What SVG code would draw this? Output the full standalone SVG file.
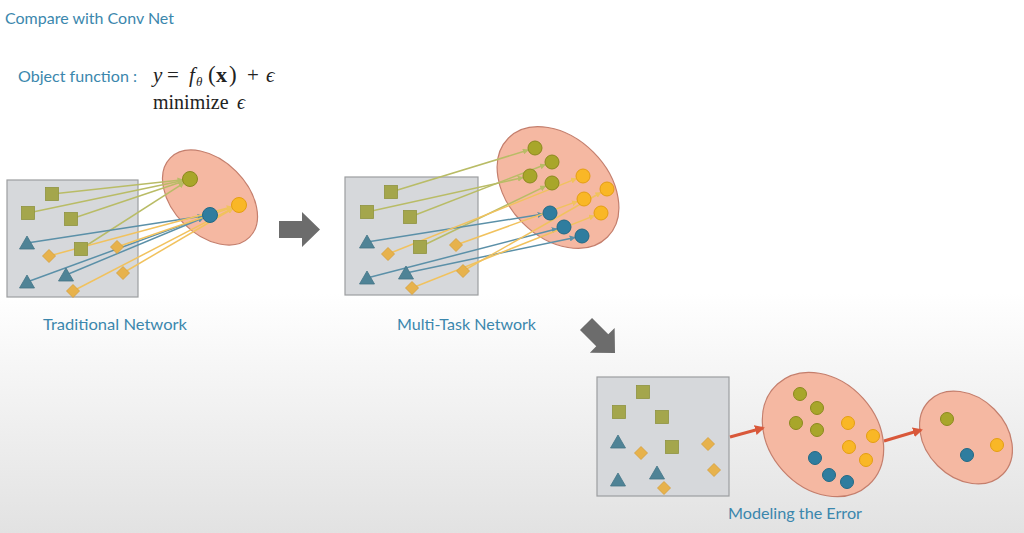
<svg xmlns="http://www.w3.org/2000/svg" xmlns:xlink="http://www.w3.org/1999/xlink" width="1024" height="533" viewBox="0 0 1024 533">
<style>
.lbl{font-family:Lato,"Liberation Sans",sans-serif;fill:#3b87ad}
.math{font-family:"Liberation Serif","DejaVu Serif",serif;fill:#222}
.box{fill:#d6d8db;stroke:#9c9ea0;stroke-width:1.2}
.ell{fill:#f5b8a2;stroke:#c47e6c;stroke-width:1.2}
.sq{fill:#a4a64c;stroke:#909340;stroke-width:0.8}
.tri{fill:#4f8396;stroke:#447587;stroke-width:0.8}
.dia{fill:#e7b24c;stroke:#d49d38;stroke-width:0.8}
.co{fill:#a8a62a;stroke:#8b891e;stroke-width:1}
.cy{fill:#f9b726;stroke:#e49e12;stroke-width:1}
.cb{fill:#2f7d9f;stroke:#226985;stroke-width:1}
.lo{stroke:#b9bc66;stroke-width:1.5;fill:none;marker-end:url(#mo)}
.lb{stroke:#5b90a8;stroke-width:1.5;fill:none;marker-end:url(#mb)}
.ly{stroke:#f1c25e;stroke-width:1.5;fill:none;marker-end:url(#my)}
.lr{stroke:#d9583a;stroke-width:3;fill:none;marker-end:url(#mr)}
.blk{fill:#6c6c6c}
</style>
<defs>
<linearGradient id="bg" x1="0" y1="0" x2="0" y2="1">
<stop offset="0.55" stop-color="#ffffff"/>
<stop offset="1" stop-color="#e2e2e2"/>
</linearGradient>
<rect id="sq" x="-6.5" y="-6.5" width="13" height="13"/>
<path id="tri" d="M0,-7 L7.5,6 L-7.5,6 Z"/>
<path id="dia" d="M0,-6.5 L6.5,0 L0,6.5 L-6.5,0 Z"/>
<path id="blkarrow" d="M-41,-8.5 L-18,-8.5 L-18,-17.5 L0,0 L-18,17.5 L-18,8.5 L-41,8.5 Z"/>
<marker id="mo" viewBox="0 0 10 10" refX="9" refY="5" markerWidth="6" markerHeight="6" markerUnits="userSpaceOnUse" orient="auto"><path d="M0,0 L10,5 L0,10 Z" fill="#b9bc66"/></marker>
<marker id="mb" viewBox="0 0 10 10" refX="9" refY="5" markerWidth="6" markerHeight="6" markerUnits="userSpaceOnUse" orient="auto"><path d="M0,0 L10,5 L0,10 Z" fill="#5b90a8"/></marker>
<marker id="my" viewBox="0 0 10 10" refX="9" refY="5" markerWidth="6" markerHeight="6" markerUnits="userSpaceOnUse" orient="auto"><path d="M0,0 L10,5 L0,10 Z" fill="#f1c25e"/></marker>
<marker id="mr" viewBox="0 0 10 10" refX="8" refY="5" markerWidth="10" markerHeight="10" markerUnits="userSpaceOnUse" orient="auto"><path d="M0,0 L10,5 L0,10 Z" fill="#d9583a"/></marker>
</defs>

<rect x="0" y="0" width="1024" height="533" fill="url(#bg)"/>

<g id="title">
<text class="lbl" x="5" y="24" font-size="16">Compare with Conv Net</text>
</g>

<g id="objective">
<text class="lbl" x="18" y="82" font-size="16" textLength="119" lengthAdjust="spacingAndGlyphs">Object function :</text>
<text class="math" y="82" font-size="21"><tspan x="153" font-style="italic">y</tspan><tspan x="167">=</tspan><tspan x="189" font-style="italic">f</tspan><tspan x="196" y="86" font-size="13" font-style="italic">θ</tspan><tspan x="208" y="82" font-size="23">(</tspan><tspan x="216" font-size="22" font-weight="bold">x</tspan><tspan x="229" font-size="23">)</tspan><tspan x="247">+</tspan><tspan x="266" font-style="italic">ϵ</tspan></text>
<text class="math" y="109" font-size="20"><tspan x="153">minimize</tspan><tspan x="237" font-style="italic">ϵ</tspan></text>
</g>

<!-- Traditional network -->
<g id="trad-input">
<rect class="box" x="7" y="180" width="131" height="117"/>
</g>
<g id="trad-output">
<ellipse class="ell" cx="210" cy="197.5" rx="56" ry="37" transform="rotate(45 210 197.5)"/>
</g>
<g id="trad-connectors">
<line class="lo" x1="52" y1="194" x2="183" y2="179.8"/>
<line class="lo" x1="28" y1="213" x2="183.1" y2="180.4"/>
<line class="lo" x1="71" y1="219" x2="183.4" y2="181.2"/>
<line class="lo" x1="81" y1="249" x2="184.1" y2="182.8"/>
<line class="lb" x1="27" y1="243" x2="203.1" y2="216.1"/>
<line class="lb" x1="27" y1="282" x2="203.4" y2="217.4"/>
<line class="lb" x1="66" y1="275" x2="203.5" y2="217.7"/>
<line class="ly" x1="49" y1="256" x2="232.2" y2="206.8"/>
<line class="ly" x1="117" y1="247" x2="232.4" y2="207.3"/>
<line class="ly" x1="123" y1="273" x2="233" y2="208.5"/>
<line class="ly" x1="73" y1="291" x2="232.8" y2="208.2"/>
</g>
<g id="trad-input-items">
<use href="#sq" class="sq" x="52" y="194"/>
<use href="#sq" class="sq" x="28" y="213"/>
<use href="#sq" class="sq" x="71" y="219"/>
<use href="#sq" class="sq" x="81" y="249"/>
<use href="#tri" class="tri" x="27" y="243"/>
<use href="#tri" class="tri" x="27" y="282"/>
<use href="#tri" class="tri" x="66" y="275"/>
<use href="#dia" class="dia" x="49" y="256"/>
<use href="#dia" class="dia" x="117" y="247"/>
<use href="#dia" class="dia" x="123" y="273"/>
<use href="#dia" class="dia" x="73" y="291"/>
</g>
<g id="trad-output-items">
<circle class="co" cx="190" cy="179" r="7.5"/>
<circle class="cb" cx="210" cy="215" r="7.5"/>
<circle class="cy" cx="239" cy="205" r="7.5"/>
</g>
<g id="trad-label"><text class="lbl" x="43" y="330" font-size="16" textLength="144" lengthAdjust="spacingAndGlyphs">Traditional Network</text></g>

<g id="arrow-right"><use href="#blkarrow" class="blk" transform="translate(320 229.5)"/></g>

<!-- Multi-task network -->
<g id="mt-input">
<rect class="box" x="345" y="177" width="133" height="118"/>
</g>
<g id="mt-output">
<ellipse class="ell" cx="558" cy="187.5" rx="70" ry="50" transform="rotate(45 558 187.5)"/>
</g>
<g id="mt-connectors">
<line class="lo" x1="391" y1="192" x2="528.3" y2="150"/>
<line class="lo" x1="367" y1="212" x2="523.2" y2="177.5"/>
<line class="lo" x1="410" y1="217" x2="545.5" y2="164.5"/>
<line class="lo" x1="420" y1="247" x2="545.7" y2="186.1"/>
<line class="lb" x1="367" y1="242" x2="543.1" y2="214.1"/>
<line class="lb" x1="367" y1="278" x2="557.2" y2="228.8"/>
<line class="lb" x1="406" y1="273" x2="575.1" y2="237.4"/>
<line class="ly" x1="388" y1="254" x2="576.5" y2="178.6"/>
<line class="ly" x1="456" y1="245" x2="577.4" y2="201.4"/>
<line class="ly" x1="463" y1="271" x2="600.9" y2="192.5"/>
<line class="ly" x1="412" y1="288" x2="594.5" y2="215.6"/>
</g>
<g id="mt-input-items">
<use href="#sq" class="sq" x="391" y="192"/>
<use href="#sq" class="sq" x="367" y="212"/>
<use href="#sq" class="sq" x="410" y="217"/>
<use href="#sq" class="sq" x="420" y="247"/>
<use href="#tri" class="tri" x="367" y="242"/>
<use href="#tri" class="tri" x="367" y="278"/>
<use href="#tri" class="tri" x="406" y="273"/>
<use href="#dia" class="dia" x="388" y="254"/>
<use href="#dia" class="dia" x="456" y="245"/>
<use href="#dia" class="dia" x="463" y="271"/>
<use href="#dia" class="dia" x="412" y="288"/>
</g>
<g id="mt-output-items">
<circle class="co" cx="535" cy="148" r="7"/>
<circle class="co" cx="552" cy="162" r="7"/>
<circle class="co" cx="530" cy="176" r="7"/>
<circle class="co" cx="552" cy="183" r="7"/>
<circle class="cy" cx="583" cy="176" r="7"/>
<circle class="cy" cx="607" cy="189" r="7"/>
<circle class="cy" cx="584" cy="199" r="7"/>
<circle class="cy" cx="601" cy="213" r="7"/>
<circle class="cb" cx="550" cy="213" r="7"/>
<circle class="cb" cx="564" cy="227" r="7"/>
<circle class="cb" cx="582" cy="236" r="7"/>
</g>
<g id="mt-label"><text class="lbl" x="397" y="330" font-size="16" textLength="139" lengthAdjust="spacingAndGlyphs">Multi-Task Network</text></g>

<g id="arrow-diag"><use href="#blkarrow" class="blk" transform="translate(615 353) rotate(45)"/></g>

<!-- Modeling the error -->
<g id="err-input">
<rect class="box" x="597" y="377" width="132" height="119"/>
<use href="#sq" class="sq" x="643" y="392"/>
<use href="#sq" class="sq" x="619" y="412"/>
<use href="#sq" class="sq" x="662" y="417"/>
<use href="#sq" class="sq" x="672" y="447"/>
<use href="#tri" class="tri" x="618" y="442"/>
<use href="#tri" class="tri" x="618" y="480"/>
<use href="#tri" class="tri" x="657" y="473"/>
<use href="#dia" class="dia" x="641" y="453"/>
<use href="#dia" class="dia" x="708" y="444"/>
<use href="#dia" class="dia" x="714" y="470"/>
<use href="#dia" class="dia" x="664" y="488"/>
</g>
<g id="err-cluster">
<ellipse class="ell" cx="823" cy="434.5" rx="68" ry="54" transform="rotate(48 823 434.5)"/>
<circle class="co" cx="800" cy="394" r="6.5"/>
<circle class="co" cx="817" cy="408" r="6.5"/>
<circle class="co" cx="796" cy="423" r="6.5"/>
<circle class="co" cx="817" cy="430" r="6.5"/>
<circle class="cy" cx="848" cy="423" r="6.5"/>
<circle class="cy" cx="873" cy="436" r="6.5"/>
<circle class="cy" cx="849" cy="447" r="6.5"/>
<circle class="cy" cx="866" cy="460" r="6.5"/>
<circle class="cb" cx="815" cy="458" r="6.5"/>
<circle class="cb" cx="829" cy="475" r="6.5"/>
<circle class="cb" cx="847" cy="482" r="6.5"/>
</g>
<g id="err-residual">
<ellipse class="ell" cx="966" cy="437.5" rx="52" ry="40" transform="rotate(45 966 437.5)"/>
<circle class="co" cx="947" cy="419" r="6.5"/>
<circle class="cb" cx="967" cy="455" r="6.5"/>
<circle class="cy" cx="997" cy="445" r="6.5"/>
</g>
<g id="err-connectors">
<line class="lr" x1="730" y1="437" x2="763" y2="428"/>
<line class="lr" x1="884" y1="441" x2="921" y2="430"/>
</g>
<g id="err-label"><text class="lbl" x="728" y="519" font-size="16" textLength="134" lengthAdjust="spacingAndGlyphs">Modeling the Error</text></g>
</svg>
